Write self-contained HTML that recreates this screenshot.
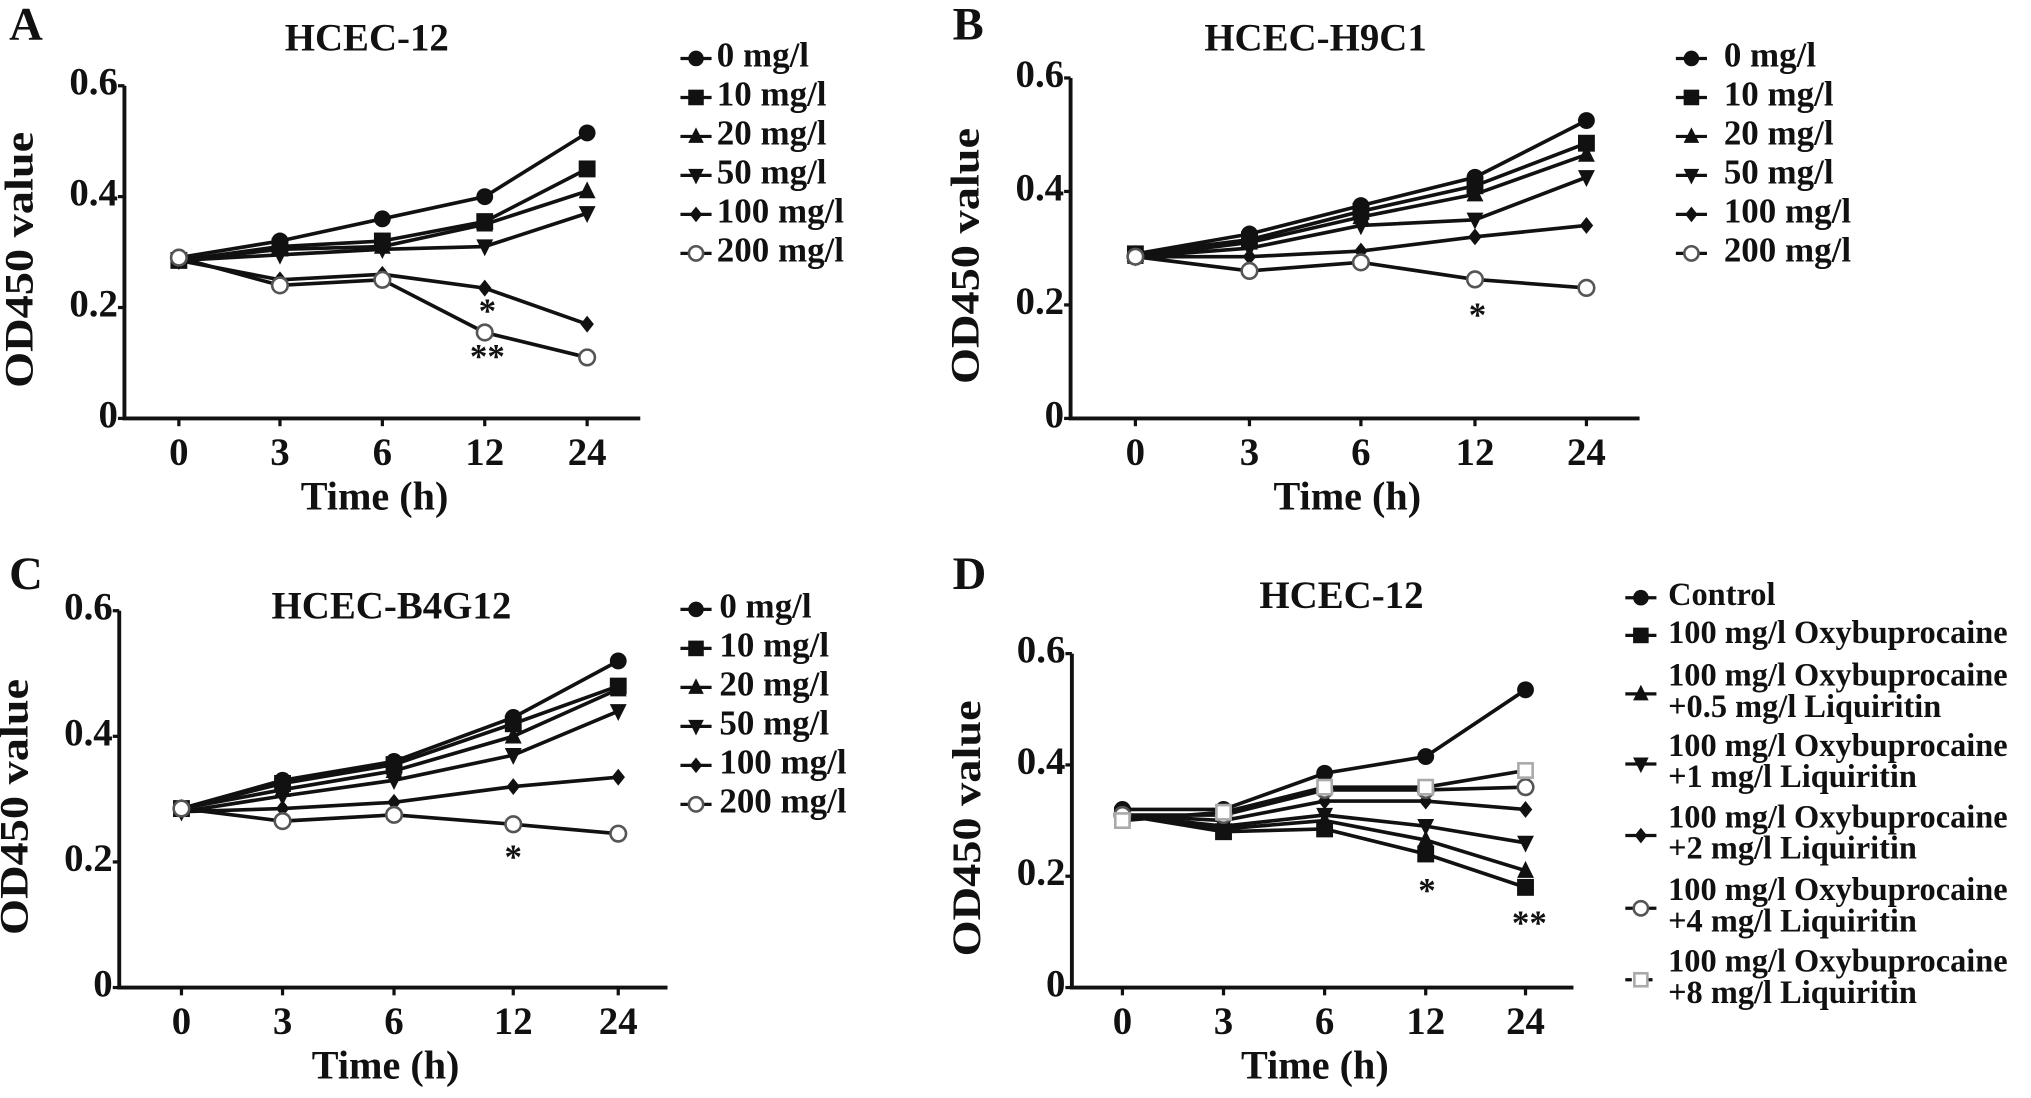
<!DOCTYPE html>
<html><head><meta charset="utf-8"><style>
html,body{margin:0;padding:0;background:#fff;}
svg{display:block;font-family:"Liberation Serif",serif;font-weight:bold;}
</style></head><body>
<svg id="fig" width="2031" height="1098" viewBox="0 0 1567 845" preserveAspectRatio="none" xmlns="http://www.w3.org/2000/svg"></svg>
<script>
const timeLabels = ["0","3","6","12","24"];
const yTicks = [0, 0.2, 0.4, 0.6];
const yTickLabels = ["0","0.2","0.4","0.6"];
const concLabels = ["0 mg/l","10 mg/l","20 mg/l","50 mg/l","100 mg/l","200 mg/l"];
const markers6 = ["circle","square","tri","tridown","diamond","open"];
const aSeries0 = [0.29,0.32,0.36,0.40,0.515];
const aSeries10 = [0.285,0.31,0.32,0.355,0.45];
const aSeries20 = [0.285,0.305,0.31,0.35,0.41];
const aSeries50 = [0.285,0.295,0.305,0.31,0.37];
const aSeries100 = [0.285,0.25,0.26,0.235,0.17];
const aSeries200 = [0.29,0.24,0.25,0.155,0.11];
const bSeries0 = [0.29,0.325,0.375,0.425,0.525];
const bSeries10 = [0.29,0.315,0.365,0.41,0.485];
const bSeries20 = [0.285,0.31,0.355,0.395,0.465];
const bSeries50 = [0.285,0.30,0.34,0.35,0.425];
const bSeries100 = [0.285,0.285,0.295,0.32,0.34];
const bSeries200 = [0.285,0.26,0.275,0.245,0.23];
const cSeries0 = [0.285,0.33,0.36,0.43,0.52];
const cSeries10 = [0.285,0.325,0.355,0.42,0.48];
const cSeries20 = [0.285,0.315,0.345,0.40,0.475];
const cSeries50 = [0.28,0.305,0.33,0.37,0.44];
const cSeries100 = [0.28,0.285,0.295,0.32,0.335];
const cSeries200 = [0.285,0.265,0.275,0.26,0.245];
const dControl = [0.32,0.32,0.385,0.415,0.535];
const dOxy = [0.31,0.28,0.285,0.24,0.18];
const dLiq05 = [0.31,0.285,0.30,0.265,0.21];
const dLiq1 = [0.31,0.29,0.31,0.29,0.26];
const dLiq2 = [0.31,0.30,0.335,0.335,0.32];
const dLiq4 = [0.31,0.31,0.355,0.355,0.36];
const dLiq8 = [0.30,0.315,0.36,0.36,0.39];
const dLabels = [["Control"],["100 mg/l Oxybuprocaine"],["100 mg/l Oxybuprocaine","+0.5 mg/l  Liquiritin"],["100 mg/l Oxybuprocaine","+1 mg/l  Liquiritin"],["100 mg/l Oxybuprocaine","+2 mg/l  Liquiritin"],["100 mg/l Oxybuprocaine","+4 mg/l  Liquiritin"],["100 mg/l Oxybuprocaine","+8 mg/l  Liquiritin"]];
const dMarkers = ["circle","square","tri","tridown","diamond","open","opensq"];

const NS="http://www.w3.org/2000/svg";
const svg=document.getElementById('fig');
function mk(tag,attrs,parent){const e=document.createElementNS(NS,tag);for(const k in attrs)e.setAttribute(k,attrs[k]);(parent||svg).appendChild(e);return e;}
function txt(x,y,s,size,anchor,parent,extra){const t=mk('text',Object.assign({x:x,y:y,'font-size':size,'text-anchor':anchor||'start','dominant-baseline':'middle',fill:'#111'},extra||{}),parent);t.textContent=s;return t;}
function marker(g,type,x,y,r){
  r=r||6.5;
  if(type==="circle") return mk('circle',{cx:x,cy:y,r:r,fill:'#111'},g);
  if(type==="square") return mk('rect',{x:x-r,y:y-r,width:2*r,height:2*r,fill:'#111'},g);
  if(type==="tri") return mk('polygon',{points:`${x},${y-r-1} ${x-r},${y+r-1} ${x+r},${y+r-1}`,fill:'#111'},g);
  if(type==="tridown") return mk('polygon',{points:`${x},${y+r+1} ${x-r},${y-r+1} ${x+r},${y-r+1}`,fill:'#111'},g);
  if(type==="diamond") return mk('polygon',{points:`${x},${y-r} ${x+r*0.8},${y} ${x},${y+r} ${x-r*0.8},${y}`,fill:'#111'},g);
  if(type==="open") return mk('circle',{cx:x,cy:y,r:r-0.5,fill:'#fff',stroke:'#555','stroke-width':2},g);
  if(type==="opensq") return mk('rect',{x:x-r+1,y:y-r+1,width:2*r-2,height:2*r-2,fill:'#fff',stroke:'#aaa','stroke-width':2},g);
}
function panel(p){
  const g=mk('g',{});
  
  
  const X=i=>p.xs[i];
  const Y=v=>p.y0+(p.y6-p.y0)*(v/0.6);
  const ax=mk('path',{d:`M${p.ax},${p.y6} L${p.ax},${p.y0} L${p.axEnd},${p.y0}`,stroke:'#111','stroke-width':3,fill:'none'},g);
  
  
  yTicks.forEach((v,i)=>{mk('line',{x1:p.ax-5,x2:p.ax,y1:Y(v),y2:Y(v),stroke:'#111','stroke-width':2.5},g);
    const t=txt(p.ax-5,Y(v),yTickLabels[i],30,'end',g);});
  timeLabels.forEach((s,i)=>{mk('line',{x1:X(i),x2:X(i),y1:p.y0,y2:p.y0+6,stroke:'#111','stroke-width':2.5},g);
    const t=txt(X(i),p.y0+29,s,30,'middle',g);});
  const xt=txt((p.ax+p.axEnd)/2-6,p.y0+63,"Time (h)",31,'middle',g);
  
  const yt=txt(0,0,"OD450 value",31,'middle',g,{transform:`translate(${p.ax-78},${(p.y0+p.y6)/2+6}) rotate(-90) scale(1.15,1)`});
  
  const tt=txt(p.titleX,p.titleY,p.title,30,'middle',g);
  
  const lt=txt(p.letterX,p.letterY,p.letter,36,'start',g);
  
  p.series.forEach((s,k)=>{
    const d=s.map((v,i)=>(i?'L':'M')+X(i)+','+Y(v)).join(' ');
    const l=mk('path',{d:d,stroke:'#111','stroke-width':2.8,fill:'none'},g);
    
    
    s.forEach((v,i)=>{const m=marker(g,p.markers[k],X(i),Y(v));
      
      });
  });
  p.stars.forEach(st=>{const t=txt(st[0],st[1],st[2],27,'middle',g);});
  p.legend.forEach((lab,k)=>{
    const lg=mk('g',{},g);
    
    
    const lines=Array.isArray(lab)?lab:[lab];
    const yy=p.legY[k];
    const my=lines.length>1?yy+p.lineH/2:yy;
    mk('line',{x1:p.legX-12,x2:p.legX+12,y1:my,y2:my,stroke:'#111','stroke-width':2.5,'stroke-dasharray':p.markers[k]==='opensq'?'5,3':'none'},lg);
    marker(lg,p.markers[k],p.legX,my,6);
    lines.forEach((s,j)=>txt(p.legTX,yy+j*p.lineH,s,p.legSize,'start',lg));
  });
}
panel({name:'panel-a',letter:'A',letterX:7,letterY:22,title:'HCEC-12',titleX:283,titleY:32,
  ax:96,axEnd:494,y0:322,y6:66,xs:[138,216,295,374,453],
  series:[aSeries0,aSeries10,aSeries20,aSeries50,aSeries100,aSeries200],markers:markers6,
  stars:[[376,242,'*'],[376,277,'**']],legend:concLabels,legX:537,legTX:553,legY:[45,75,105,135,165,195],lineH:0,legSize:27});
panel({name:'panel-b',letter:'B',letterX:735,letterY:22,title:'HCEC-H9C1',titleX:1015,titleY:32,
  ax:826,axEnd:1265,y0:322,y6:60,xs:[876,964,1050,1138,1224],
  series:[bSeries0,bSeries10,bSeries20,bSeries50,bSeries100,bSeries200],markers:markers6,
  stars:[[1140,245,'*']],legend:concLabels,legX:1305,legTX:1330,legY:[45,75,105,135,165,195],lineH:0,legSize:27});
panel({name:'panel-c',letter:'C',letterX:7,letterY:445,title:'HCEC-B4G12',titleX:302,titleY:469,
  ax:92,axEnd:515,y0:760,y6:470,xs:[140,218,304,396,477],
  series:[cSeries0,cSeries10,cSeries20,cSeries50,cSeries100,cSeries200],markers:markers6,
  stars:[[396,662,'*']],legend:concLabels,legX:537,legTX:555,legY:[469,499,529,559,589,619],lineH:0,legSize:27});
panel({name:'panel-d',letter:'D',letterX:735,letterY:445,title:'HCEC-12',titleX:1035,titleY:461,
  ax:827,axEnd:1214,y0:760,y6:503,xs:[866,944,1022,1100,1177],
  series:[dControl,dOxy,dLiq05,dLiq1,dLiq2,dLiq4,dLiq8],markers:dMarkers,
  stars:[[1101,688,'*'],[1180,713,'**']],legend:dLabels,legX:1266,legTX:1287,legY:[460,489,522,576,631,687,742],lineH:24,legSize:25});
</script>
</body></html>
